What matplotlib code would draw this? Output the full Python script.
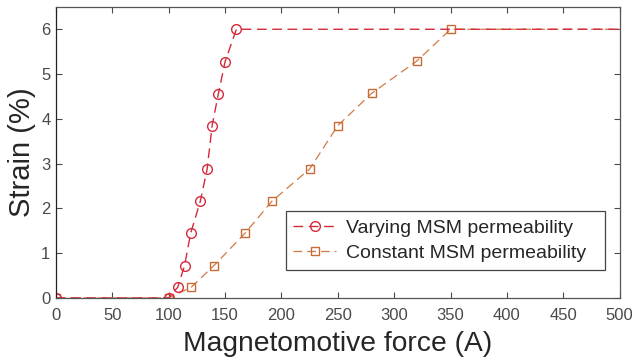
import matplotlib
matplotlib.use("Agg")
import matplotlib.pyplot as plt

# Strain vs magnetomotive force
mmf_varying = [0, 100, 108, 114, 119.5, 128, 134, 138.5, 144, 150, 160, 500]
strain_varying = [0, 0, 0.24, 0.72, 1.45, 2.16, 2.87, 3.85, 4.56, 5.28, 6, 6]

mmf_constant = [0, 100, 120, 140, 167.5, 191.5, 225, 250, 280, 320, 350, 500]
strain_constant = [0, 0, 0.24, 0.72, 1.44, 2.16, 2.88, 3.85, 4.57, 5.29, 6, 6]

labels = ["Varying MSM permeability", "Constant MSM permeability"]
xticks = [0, 50, 100, 150, 200, 250, 300, 350, 400, 450, 500]
yticks = [0, 1, 2, 3, 4, 5, 6]

plt.rcParams['font.family'] = ['Liberation Sans', 'DejaVu Sans']

fig = plt.figure(figsize=(6.32, 3.62), dpi=100)
ax = fig.add_axes([0.0886, 0.177, 0.892, 0.804])

red = '#d42a3c'
orange = '#cf7a45'

# last point (500) has no marker
ax.plot(mmf_constant, strain_constant, linestyle='--', color=orange, lw=0.9,
        marker='s', markersize=6, markerfacecolor='none', markeredgecolor='#c96a35',
        markevery=list(range(len(mmf_constant) - 1)), dashes=(7, 4), label=labels[1])
ax.plot(mmf_varying, strain_varying, linestyle='--', color=red, lw=1.0,
        marker='o', markersize=7, markerfacecolor='none', markeredgecolor=red,
        markevery=list(range(len(mmf_varying) - 1)), dashes=(7, 4), label=labels[0])

ax.set_xlim(0, 500)
ax.set_ylim(0, 6.5)
ax.set_xticks(xticks)
ax.set_yticks(yticks)
ax.tick_params(direction='in', top=True, right=True, labelsize=12,
               colors='#4a4a4a', length=4, width=0.8)
ax.tick_params(axis='x', pad=7)
ax.tick_params(axis='y', pad=4)
for s in ax.spines.values():
    s.set_color('#555555')
    s.set_linewidth(0.9)
ax.spines['left'].set_color('#222222')

ax.set_xlabel("Magnetomotive force (A)", fontsize=20.3, color='#262626', labelpad=6)
ax.set_ylabel("Strain (%)", fontsize=21, color='#262626', labelpad=4)

handles, lbls = ax.get_legend_handles_labels()
lbls = [l + "  " for l in lbls]
leg = ax.legend(handles[::-1], lbls[::-1], loc='lower right',
                bbox_to_anchor=(0.973, 0.096), fontsize=14, frameon=True,
                fancybox=False, edgecolor='#444444', framealpha=1,
                handlelength=2.2, handletextpad=0.5, borderpad=0.4,
                labelspacing=0.4, borderaxespad=0)
leg.get_frame().set_linewidth(0.9)
for t in leg.get_texts():
    t.set_color('#262626')

fig.savefig("out.png", dpi=100)
